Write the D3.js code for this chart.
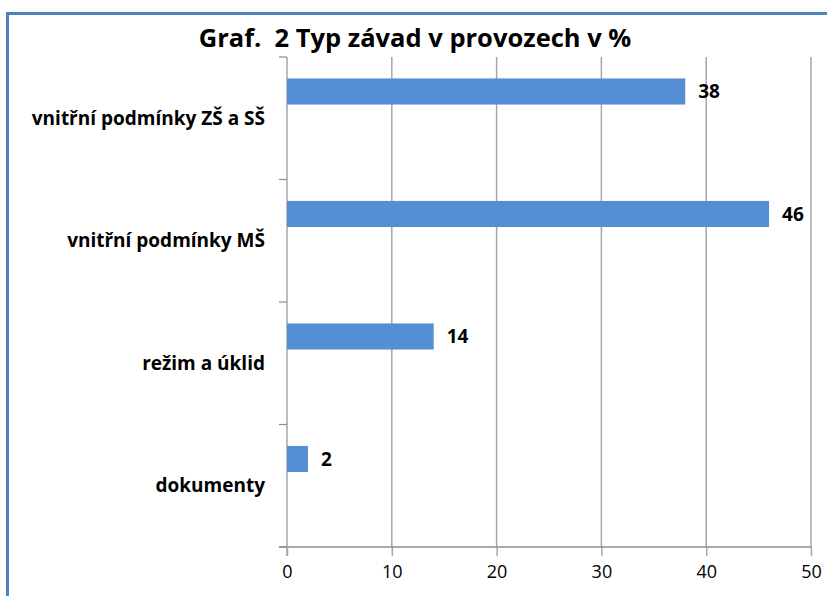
<!DOCTYPE html>
<html>
<head>
<meta charset="utf-8">
<script src="https://cdn.jsdelivr.net/npm/d3@7"></script>
<style>
  html, body { margin: 0; padding: 0; background: #fff; }
</style>
</head>
<body>
<div class="d3Chart"></div>
<script>
// data
var categories = ["vnitřní podmínky ZŠ a SŠ", "vnitřní podmínky MŠ", "režim a úklid", "dokumenty"];
var values = [38, 46, 14, 2];
var xTicks = [0, 10, 20, 30, 40, 50];
var title = "Graf.  2 Typ závad v provozech v %";

var width = 827;
var height = 596;
var font = "'Open Sans', 'Noto Sans', sans-serif";

var svg = d3
  .select(".d3Chart")
  .append("svg")
  .attr("width", width)
  .attr("height", height)
  .style("display", "block");

// outer frame (blue border, cut by the page edge)
svg.append("rect")
  .attr("x", 7.5).attr("y", 13.5)
  .attr("width", width + 20).attr("height", height + 20)
  .attr("fill", "none")
  .attr("stroke", "#4f81bd")
  .attr("stroke-width", 3);

// title
svg.append("text")
  .attr("x", 415).attr("y", 47)
  .attr("text-anchor", "middle")
  .style("font-family", font)
  .style("font-weight", "bold")
  .style("font-size", "25.5px")
  .style("fill", "#000")
  .style("white-space", "pre")
  .text(title);

// scales
var plotLeft = 287, plotRight = 811, plotTop = 57, plotBottom = 547;
var xScale = d3.scaleLinear().domain([0, 50]).range([plotLeft, plotRight]);
var yScale = d3.scaleBand().domain(categories).range([plotTop, plotBottom]).paddingInner(0).paddingOuter(0);
var bw = yScale.bandwidth();

// vertical gridlines
svg.append("g")
  .selectAll("line")
  .data(xTicks.slice(1))
  .enter()
  .append("line")
  .attr("x1", (d) => xScale(d)).attr("x2", (d) => xScale(d))
  .attr("y1", plotTop).attr("y2", plotBottom)
  .attr("stroke", "#a6a6a6")
  .attr("stroke-width", 1.5);

// x axis
var xAxis = d3.axisBottom(xScale).tickValues(xTicks).tickSize(9).tickPadding(9).tickSizeOuter(0);
var gx = svg.append("g").attr("transform", `translate(0, ${plotBottom})`).call(xAxis);
gx.select(".domain").remove();
gx.append("line")
  .attr("x1", plotLeft - 8).attr("x2", plotRight)
  .attr("y1", 0).attr("y2", 0)
  .attr("stroke", "#8c8c8c").attr("stroke-width", 1.5);
gx.selectAll(".tick line").attr("stroke", "#a6a6a6").attr("stroke-width", 1.5);
gx.selectAll(".tick text")
  .style("font-family", font)
  .style("font-size", "18px")
  .style("fill", "#000");

// y axis with ticks at category boundaries
var boundaries = categories.map((c) => yScale(c)).concat([plotBottom]);
var gy = svg.append("g");
gy.append("line")
  .attr("x1", plotLeft).attr("x2", plotLeft)
  .attr("y1", plotTop).attr("y2", plotBottom + 9)
  .attr("stroke", "#a6a6a6").attr("stroke-width", 1.5);
gy.selectAll("line.tk")
  .data(boundaries)
  .enter()
  .append("line")
  .attr("class", "tk")
  .attr("x1", plotLeft - 8).attr("x2", plotLeft)
  .attr("y1", (d) => d).attr("y2", (d) => d)
  .attr("stroke", "#8c8c8c").attr("stroke-width", 1.2);

// category labels
svg.append("g")
  .selectAll("text")
  .data(categories)
  .enter()
  .append("text")
  .attr("x", 265)
  .attr("y", (d) => yScale(d) + bw * 0.555)
  .attr("text-anchor", "end")
  .style("font-family", font)
  .style("font-weight", "bold")
  .style("font-size", "19px")
  .style("fill", "#000")
  .text((d) => d);

// bars
svg.append("g")
  .selectAll("rect")
  .data(values)
  .enter()
  .append("rect")
  .attr("x", xScale(0))
  .attr("y", (d, i) => yScale(categories[i]) + bw * 0.175)
  .attr("width", (d) => xScale(d) - xScale(0))
  .attr("height", bw * 0.213)
  .attr("fill", "#558ed5");

// value labels
svg.append("g")
  .selectAll("text")
  .data(values)
  .enter()
  .append("text")
  .attr("x", (d) => xScale(d) + 13)
  .attr("y", (d, i) => yScale(categories[i]) + bw * 0.175 + bw * 0.1065)
  .attr("dominant-baseline", "central")
  .style("font-family", font)
  .style("font-weight", "bold")
  .style("font-size", "19px")
  .style("fill", "#000")
  .text((d) => d);
</script>
</body>
</html>
